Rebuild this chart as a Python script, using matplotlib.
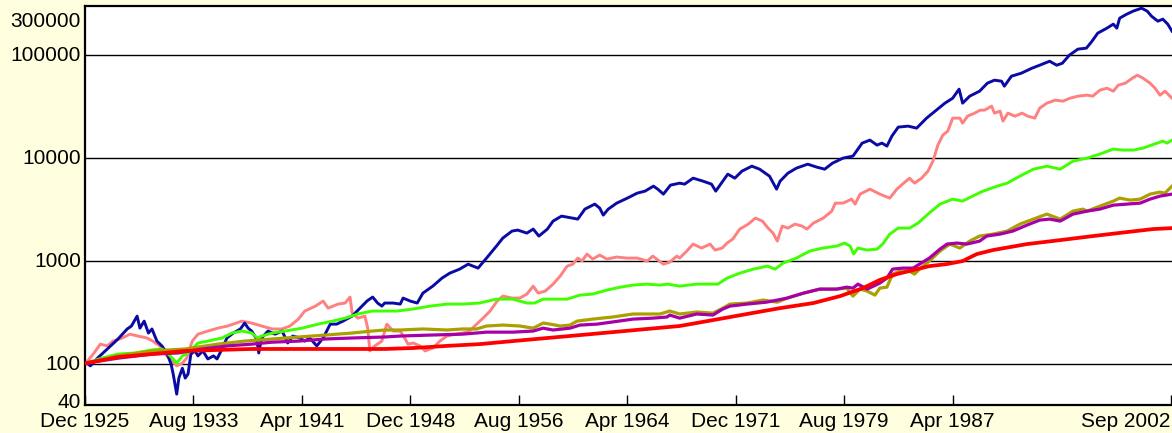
import matplotlib
matplotlib.use("Agg")
import matplotlib.pyplot as plt

plt.rcParams['font.family'] = ['Liberation Sans', 'DejaVu Sans']

# ---- data (decimal years, index values; start = 100) ----
blue_years = [1926.0, 1926.3, 1926.8, 1927.5, 1928.25, 1928.9, 1929.2, 1929.6, 1929.8, 1930.1,
              1930.4, 1930.65, 1931.0, 1931.35, 1931.7, 1932.0, 1932.15, 1932.4, 1932.55, 1932.8,
              1933.0, 1933.2, 1933.4, 1933.7, 1933.9, 1934.25, 1934.6, 1935.0, 1935.25, 1935.6,
              1935.95, 1936.4, 1936.9, 1937.2, 1937.45, 1937.7, 1938.05, 1938.2, 1938.4, 1938.85,
              1939.35, 1939.85, 1940.25, 1940.6, 1941.1, 1941.45, 1941.8, 1942.3, 1942.75, 1943.25,
              1943.7, 1944.15, 1944.8, 1945.5, 1945.85, 1946.25, 1946.6, 1946.9, 1947.1, 1947.7,
              1948.2, 1948.4, 1948.9, 1949.4, 1949.8, 1950.5, 1951.15, 1951.7, 1952.4, 1953.0,
              1953.7, 1954.3, 1955.0, 1955.45, 1956.1, 1956.5, 1957.15, 1957.6, 1958.0, 1958.6,
              1959.0, 1959.6, 1960.35, 1960.75, 1961.25, 1961.95, 1962.3, 1962.55, 1962.9, 1963.5,
              1964.25, 1964.95, 1965.5, 1966.1, 1966.4, 1966.8, 1967.3, 1967.95, 1968.3, 1968.9,
              1969.6, 1970.2, 1970.5, 1971.0, 1971.35, 1971.85, 1972.35, 1973.05, 1973.6, 1974.3,
              1974.8, 1975.05, 1975.6, 1976.2, 1977.0, 1977.65, 1978.2, 1978.75, 1979.5, 1980.2,
              1980.85, 1981.4, 1981.9, 1982.25, 1982.6, 1982.95, 1983.4, 1984.1, 1984.7, 1985.4,
              1986.1, 1986.7, 1987.25, 1987.7, 1987.95, 1988.45, 1989.15, 1989.7, 1990.2, 1990.7,
              1990.9, 1991.4, 1992.1, 1992.85, 1993.4, 1994.1, 1994.6, 1995.0, 1995.5, 1996.1,
              1996.7, 1997.1, 1997.5, 1998.15, 1998.6, 1998.85, 1999.05, 1999.55, 2000.0, 2000.6,
              2001.0, 2001.3, 2001.75, 2002.1, 2002.45, 2002.75]
blue_vals = [103, 96, 114, 140, 175, 219, 234, 292, 223, 261,
             200, 219, 167, 150, 128, 100, 80, 51, 73, 91,
             73, 80, 125, 134, 120, 134, 112, 120, 112, 140,
             179, 200, 219, 250, 223, 209, 175, 128, 179, 209,
             195, 209, 160, 187, 179, 167, 179, 150, 179, 244,
             244, 261, 292, 365, 409, 447, 391, 365, 391, 391,
             382, 437, 409, 391, 488, 571, 683, 763, 835, 933,
             854, 1069, 1398, 1672, 1955, 1999, 1869, 2044, 1748, 2044,
             2444, 2733, 2613, 2556, 3195, 3573, 3267, 2794, 3195, 3653,
             4085, 4568, 4776, 5341, 4994, 4467, 5461, 5711, 5585, 6385,
             5972, 5585, 4776, 5972, 6982, 6385, 7466, 8348, 7807, 6677,
             4994, 5972, 7140, 7983, 8729, 8164, 7807, 8927, 10000, 10457,
             13980, 14950, 13370, 13980, 13075, 16347, 19987, 20439, 19546, 24438,
             29220, 34165, 38202, 46708, 34165, 39947, 44667, 53406, 57107, 55846,
             49945, 62444, 66771, 74660, 79834, 87294, 79834, 83481, 100000, 114340,
             116930, 136720, 163470, 182790, 199870, 182790, 228540, 249900, 267220, 285740,
             267220, 238980, 213730, 223490, 199870, 170940]

pink_years = [1926.0, 1926.5, 1927.0, 1927.5, 1927.9, 1928.55, 1929.1, 1929.65, 1930.3, 1930.7,
              1931.2, 1931.7, 1932.05, 1932.4, 1932.8, 1933.1, 1933.5, 1933.9, 1934.6, 1935.3,
              1936.0, 1937.0, 1937.7, 1938.4, 1939.15, 1939.85, 1940.4, 1941.0, 1941.45, 1942.2,
              1942.75, 1943.1, 1943.8, 1944.3, 1944.65, 1944.8, 1945.2, 1945.7, 1945.9, 1946.05,
              1946.4, 1946.9, 1947.25, 1947.7, 1948.2, 1948.55, 1948.75, 1949.1, 1949.6, 1949.95,
              1950.5, 1951.0, 1951.5, 1952.1, 1952.6, 1953.1, 1953.6, 1954.05, 1954.55, 1955.05,
              1955.45, 1956.1, 1956.65, 1957.15, 1957.6, 1957.95, 1958.45, 1959.0, 1959.5, 1960.0,
              1960.4, 1960.75, 1961.05, 1961.4, 1961.8, 1962.3, 1962.8, 1963.5, 1964.2, 1964.95,
              1965.65, 1966.05, 1966.8, 1967.25, 1967.75, 1967.95, 1968.45, 1968.9, 1969.5, 1970.1,
              1970.45, 1970.95, 1971.3, 1971.7, 1972.2, 1972.8, 1973.3, 1973.8, 1974.2, 1974.55,
              1974.85, 1975.2, 1975.6, 1976.1, 1976.6, 1976.95, 1977.4, 1978.1, 1978.7, 1978.95,
              1979.5, 1980.1, 1980.35, 1980.7, 1981.4, 1982.1, 1982.8, 1983.3, 1983.7, 1984.2,
              1984.55, 1985.05, 1985.5, 1985.85, 1986.2, 1986.55, 1986.9, 1987.25, 1987.75, 1987.95,
              1988.3, 1988.8, 1989.2, 1989.5, 1990.0, 1990.2, 1990.6, 1990.8, 1991.15, 1991.65,
              1992.15, 1992.55, 1993.05, 1993.4, 1993.9, 1994.5, 1995.05, 1995.55, 1996.1, 1996.75,
              1997.15, 1997.65, 1998.15, 1998.6, 1998.95, 1999.45, 1999.95, 2000.3, 2000.7, 2001.2,
              2001.55, 2001.9, 2002.25, 2002.75]
pink_vals = [103, 125, 156, 150, 167, 179, 195, 187, 179, 167,
             150, 120, 107, 96, 102, 114, 167, 195, 209, 223,
             234, 261, 250, 234, 219, 219, 234, 273, 327, 365,
             409, 349, 382, 391, 447, 312, 279, 292, 223, 134,
             150, 167, 244, 209, 209, 175, 156, 160, 150, 134,
             143, 167, 187, 195, 200, 209, 244, 279, 327, 409,
             457, 437, 437, 478, 571, 488, 511, 597, 714, 893,
             933, 1069, 1000, 1169, 1046, 1143, 1046, 1094, 1069, 1069,
             1000, 1118, 933, 976, 1118, 1069, 1250, 1462, 1337, 1462,
             1279, 1337, 1495, 1635, 2044, 2285, 2613, 2444, 2090, 1869,
             1563, 2186, 2090, 2285, 2186, 2044, 2337, 2613, 3055, 3653,
             3653, 3995, 3573, 4467, 4994, 4467, 4085, 4994, 5585, 6385,
             5711, 6385, 7466, 9334, 13370, 16716, 18279, 24438, 24438, 21855,
             25555, 27326, 29220, 29220, 31950, 27326, 28574, 22854, 27326, 25555,
             27326, 25555, 24438, 30555, 34165, 36533, 35726, 38202, 39947, 40850,
             39947, 45676, 47763, 44667, 51073, 53406, 59716, 63854, 59716, 53406,
             47763, 40850, 44667, 38202]

green_years = [1926.0, 1927.1, 1928.25, 1929.45, 1930.65, 1931.35, 1931.8, 1932.15, 1932.4, 1932.8,
               1933.1, 1933.5, 1933.9, 1934.6, 1935.6, 1936.3, 1937.0, 1937.7, 1938.1, 1938.4,
               1939.15, 1940.05, 1941.25, 1942.4, 1943.4, 1944.3, 1945.2, 1946.2, 1947.1, 1947.95,
               1949.1, 1950.3, 1951.5, 1952.6, 1953.8, 1955.0, 1956.15, 1957.15, 1957.7, 1958.3,
               1959.25, 1960.0, 1960.9, 1961.8, 1962.8, 1963.75, 1964.65, 1965.65, 1966.55, 1967.1,
               1967.95, 1969.15, 1970.1, 1970.65, 1971.3, 1972.2, 1973.15, 1974.15, 1974.7, 1975.25,
               1976.2, 1977.15, 1978.05, 1979.05, 1979.6, 1980.0, 1980.25, 1980.55, 1981.2, 1981.9,
               1982.3, 1982.8, 1983.4, 1984.2, 1984.8, 1985.5, 1986.35, 1987.25, 1987.95, 1988.65,
               1989.4, 1990.4, 1991.1, 1992.0, 1992.95, 1993.9, 1994.85, 1995.75, 1996.75, 1997.65,
               1998.6, 1999.3, 2000.0, 2000.7, 2001.7, 2002.1, 2002.4, 2002.75]
green_vals = [102, 114, 125, 128, 137, 140, 125, 112, 102, 120,
              125, 140, 160, 167, 179, 200, 209, 200, 179, 187,
              200, 209, 223, 244, 261, 279, 306, 327, 327, 327,
              342, 365, 382, 382, 391, 427, 427, 391, 391, 427,
              427, 427, 467, 478, 522, 558, 584, 597, 584, 597,
              571, 597, 597, 597, 683, 763, 835, 893, 835, 955,
              1069, 1250, 1337, 1398, 1495, 1398, 1169, 1337, 1279, 1307,
              1462, 1828, 2090, 2090, 2337, 2857, 3573, 3995, 3820, 4272,
              4776, 5341, 5711, 6677, 7807, 8348, 7807, 9334, 10000, 10935,
              12227, 11957, 11957, 12503, 13980, 14619, 13980, 14950]

olive_years = [1926.0, 1928.25, 1930.65, 1933.0, 1935.3, 1937.2, 1939.15, 1941.0, 1942.9, 1944.8,
               1946.2, 1947.1, 1948.2, 1949.8, 1951.5, 1952.6, 1953.6, 1954.3, 1955.45, 1956.65,
               1957.6, 1958.3, 1958.8, 1959.5, 1960.2, 1960.7, 1961.8, 1963.2, 1964.65, 1965.65,
               1966.55, 1967.25, 1967.95, 1969.15, 1970.3, 1971.0, 1971.5, 1972.7, 1973.85, 1974.85,
               1975.55, 1976.7, 1977.85, 1979.05, 1979.75, 1980.2, 1980.7, 1981.2, 1981.75, 1982.1,
               1982.6, 1983.0, 1983.5, 1984.2, 1984.55, 1984.9, 1985.6, 1986.35, 1987.05, 1987.75,
               1988.45, 1989.15, 1990.1, 1991.1, 1992.0, 1992.95, 1993.9, 1994.85, 1995.75, 1996.45,
               1996.75, 1997.65, 1998.6, 1999.05, 1999.8, 2000.5, 2001.2, 2001.9, 2002.25, 2002.75]
olive_vals = [102, 120, 134, 140, 156, 167, 175, 183, 191, 200,
              209, 214, 214, 219, 214, 219, 219, 234, 239, 234,
              223, 250, 244, 234, 239, 261, 273, 286, 306, 306,
              306, 327, 306, 320, 312, 349, 382, 391, 418, 399,
              437, 488, 534, 534, 546, 457, 534, 511, 467, 546,
              558, 747, 798, 798, 747, 835, 1000, 1250, 1462, 1337,
              1563, 1748, 1828, 1955, 2285, 2556, 2857, 2556, 3055, 3195,
              3055, 3414, 3820, 4085, 3907, 3995, 4467, 4671, 4568, 5341]

purple_years = [1926.0, 1928.25, 1930.65, 1932.5, 1934.2, 1936.0, 1937.7, 1939.15, 1941.0, 1942.9,
                1944.8, 1947.1, 1948.2, 1950.3, 1952.6, 1954.3, 1956.15, 1957.6, 1958.3, 1959.0,
                1960.2, 1960.9, 1962.1, 1963.2, 1964.65, 1966.05, 1967.05, 1967.25, 1967.95, 1969.15,
                1970.3, 1971.0, 1971.5, 1972.7, 1974.1, 1974.85, 1975.55, 1976.7, 1977.85, 1979.05,
                1979.75, 1980.2, 1980.55, 1981.2, 1982.1, 1982.6, 1983.0, 1983.7, 1984.45, 1984.9,
                1985.6, 1986.35, 1986.85, 1987.55, 1988.25, 1989.15, 1989.65, 1990.6, 1991.5, 1992.5,
                1993.4, 1994.1, 1994.85, 1995.75, 1996.75, 1997.65, 1998.6, 1999.55, 2000.5, 2001.2,
                2001.9, 2002.75]
purple_vals = [102, 114, 125, 128, 140, 150, 156, 163, 167, 175,
               179, 183, 187, 191, 195, 204, 204, 209, 223, 214,
               223, 239, 244, 256, 273, 279, 286, 299, 279, 306,
               299, 342, 365, 382, 399, 418, 437, 488, 534, 534,
               558, 546, 597, 534, 611, 683, 835, 854, 854, 933,
               1069, 1307, 1462, 1495, 1462, 1563, 1748, 1828, 1955, 2235,
               2499, 2556, 2444, 2857, 3055, 3195, 3491, 3573, 3653, 3995,
               4272, 4467]

red_years = [1926.0, 1928.25, 1930.65, 1933.0, 1935.3, 1937.7, 1940.05, 1942.4, 1944.8, 1947.1,
             1949.1, 1951.5, 1953.8, 1956.15, 1958.6, 1960.9, 1963.2, 1965.65, 1967.95, 1970.3,
             1972.7, 1975.05, 1977.4, 1979.3, 1980.9, 1982.1, 1983.3, 1984.45, 1985.6, 1986.8,
             1987.95, 1988.95, 1990.1, 1992.5, 1994.85, 1997.15, 1999.55, 2001.4, 2002.75]
red_vals = [102, 117, 125, 134, 137, 140, 140, 140, 140, 140,
            143, 150, 156, 167, 179, 191, 204, 219, 234, 267,
            306, 349, 391, 457, 546, 656, 747, 816, 893, 933,
            1000, 1169, 1279, 1462, 1598, 1748, 1911, 2044, 2090]

xtick_years = [1925.917, 1933.583, 1941.25, 1948.917, 1956.583, 1964.25,
               1971.917, 1979.583, 1987.25, 2002.667]
xtick_labels = ['Dec 1925', 'Aug 1933', 'Apr 1941', 'Dec 1948', 'Aug 1956', 'Apr 1964',
                'Dec 1971', 'Aug 1979', 'Apr 1987', 'Sep 2002']
ytick_vals = [40, 100, 1000, 10000, 100000, 300000]
ytick_labels = ['40', '100', '1000', '10000', '100000', '300000']
grid_levels = [100, 1000, 10000, 100000]

# ---- figure ----
W, H = 1172, 433
fig = plt.figure(figsize=(W / 100, H / 100), dpi=100, facecolor='#FFFFE0')
ax = fig.add_axes([85 / W, 28 / H, (W - 85) / W, (405 - 6) / H])
ax.set_facecolor('white')
ax.set_yscale('log')
ax.set_xlim(1925.917, 2002.75)
ax.set_ylim(40, 300000)

for g in grid_levels:
    ax.axhline(g, color='black', lw=1.0, zorder=1)

series = [
    (pink_years, pink_vals, '#FF8080', 2.1),
    (blue_years, blue_vals, '#0A0AA5', 2.1),
    (green_years, green_vals, '#40FF00', 2.1),
    (olive_years, olive_vals, '#AAA000', 2.3),
    (purple_years, purple_vals, '#A800A8', 2.3),
    (red_years, red_vals, '#FF0000', 2.7),
]
for xs, ys, c, lw in series:
    ax.plot(xs, ys, color=c, lw=lw, zorder=3, solid_joinstyle='round')

ax.set_xticks(xtick_years)
ax.set_xticklabels(xtick_labels)
ax.xaxis.get_ticklabels()[-1].set_horizontalalignment('right')
ax.set_yticks(ytick_vals)
ax.set_yticklabels([''] * len(ytick_vals))
ax.yaxis.set_minor_locator(matplotlib.ticker.NullLocator())
ax.tick_params(axis='x', direction='in', length=7, width=1, labelsize=15,
               colors='black', pad=5)
ax.tick_params(axis='y', direction='in', length=0)

# y labels as annotations so the end labels can be nudged inside the frame
offsets = {40: 1.5, 300000: -11}
for v, lab in zip(ytick_vals, ytick_labels):
    ax.annotate(lab, xy=(0, v), xycoords=('axes fraction', 'data'),
                xytext=(-3, offsets.get(v, 0)), textcoords='offset points',
                ha='right', va='center', fontsize=15, annotation_clip=False)

for s in ['left', 'bottom', 'top']:
    ax.spines[s].set_linewidth(1.6)
    ax.spines[s].set_color('black')
ax.spines['right'].set_visible(False)

fig.savefig('out.png', dpi=100, facecolor=fig.get_facecolor())
